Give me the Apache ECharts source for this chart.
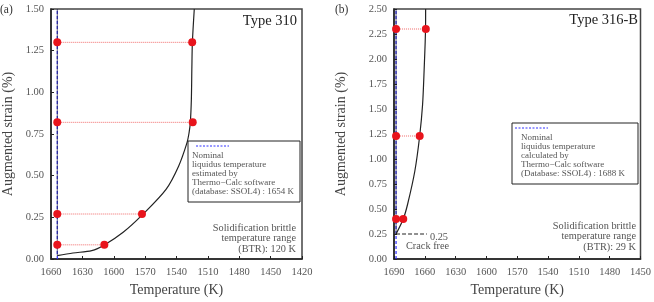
<!DOCTYPE html>
<html>
<head>
<meta charset="utf-8">
<script src="https://cdn.jsdelivr.net/npm/echarts@6/dist/echarts.min.js"></script>
<style>
  html, body { margin: 0; padding: 0; background: #fff; }
  #main { width: 654px; height: 302px; }
</style>
</head>
<body>
<div id="main"></div>
<script>
// panel (a) Type 310
const liquidusA = 1654;
const strainA = [1.30, 0.82, 0.27, 0.085];
const hotTempA = [1525, 1524.5, 1573, 1609];
const curveTempA = [1654, 1639, 1621, 1609, 1591, 1573, 1550, 1538, 1530, 1528, 1526.8, 1525.8, 1525.3, 1524.8, 1523];
const curveStrainA = [0.02, 0.036, 0.05, 0.084, 0.16, 0.263, 0.418, 0.557, 0.697, 0.757, 0.817, 0.956, 1.15, 1.30, 1.5];

// panel (b) Type 316-B
const liquidusB = 1688;
const strainB = [2.30, 1.23, 0.40];
const hotTempB = [1659, 1665, 1681];
const curveTempB = [1688, 1681, 1676.7, 1669.7, 1665, 1662.2, 1660.7, 1659.3, 1659.2];
const curveStrainB = [0.25, 0.40, 0.55, 0.88, 1.23, 1.54, 1.88, 2.30, 2.50];
const crackFree = 0.25;
const crackFreeEnd = 1658;

const tempRangeA = [1420, 1660];
const tempRangeB = [1450, 1690];
const strainMaxA = 1.5;
const strainMaxB = 2.5;

const serif = 'Liberation Serif';
const chart = echarts.init(document.getElementById('main'), null, { renderer: 'canvas' });

function pairs(xs, ys) {
  return xs.map((x, i) => [x, ys[i]]);
}

function xAxisOf(idx, range) {
  return {
    gridIndex: idx, type: 'value', inverse: true,
    min: range[0], max: range[1], interval: 30,
    name: 'Temperature (K)', nameLocation: 'middle', nameGap: 24,
    nameTextStyle: { fontFamily: serif, fontSize: 14, color: '#444' },
    axisLine: { lineStyle: { color: '#222', width: 1.5 } },
    axisTick: { inside: true, length: 3, lineStyle: { color: '#222' } },
    axisLabel: { fontFamily: serif, fontSize: 10.5, color: '#555', margin: 8,
      formatter: v => String(v) },
    splitLine: { show: false }
  };
}

function yAxisOf(idx, max, gap) {
  return {
    gridIndex: idx, type: 'value', min: 0, max: max, interval: 0.25,
    name: 'Augmented strain (%)', nameLocation: 'middle', nameGap: gap,
    nameTextStyle: { fontFamily: serif, fontSize: 14, color: '#444' },
    axisLine: { lineStyle: { color: '#222', width: 1.5 } },
    axisTick: { inside: true, length: 3, lineStyle: { color: '#222' } },
    axisLabel: { fontFamily: serif, fontSize: 10.5, color: '#555', margin: 7,
      formatter: v => v.toFixed(2) },
    splitLine: { show: false }
  };
}

function panelSeries(idx, liq, yMax, strains, hots, cTemp, cStrain, bottom) {
  const s = [];
  s.push({
    type: 'line', xAxisIndex: idx, yAxisIndex: idx, symbol: 'none', z: 2,
    data: [[liq, 0], [liq, yMax]],
    lineStyle: { color: '#2a2aff', width: 1.2, type: [3, 2] }
  });
  s.push({
    type: 'line', xAxisIndex: idx, yAxisIndex: idx, symbol: 'none', z: 3,
    data: [[liq, bottom], [liq, yMax]],
    lineStyle: { color: '#1a1a40', width: 1, opacity: 0.7 }
  });
  s.push({
    type: 'line', xAxisIndex: idx, yAxisIndex: idx, symbol: 'none', z: 3,
    smooth: 0.3, data: pairs(cTemp, cStrain),
    lineStyle: { color: '#222', width: 1.2 }
  });
  strains.forEach((v, i) => {
    s.push({
      type: 'line', xAxisIndex: idx, yAxisIndex: idx, z: 5,
      symbol: 'circle', symbolSize: 8,
      itemStyle: { color: '#e8141c' },
      data: [[liq, v], [hots[i], v]],
      lineStyle: { color: '#f06a6a', width: 1, type: 'dotted' }
    });
  });
  return s;
}

const series = [].concat(
  panelSeries(0, liquidusA, strainMaxA, strainA, hotTempA, curveTempA, curveStrainA, 0.02),
  panelSeries(1, liquidusB, strainMaxB, strainB, hotTempB, curveTempB, curveStrainB, crackFree)
);
series.push({
  type: 'line', xAxisIndex: 1, yAxisIndex: 1, symbol: 'none', z: 4,
  data: [[liquidusB, crackFree], [crackFreeEnd, crackFree]],
  lineStyle: { color: '#222', width: 1.2, type: [4, 2] }
});

function txt(x, y, s, size, align, color) {
  return {
    type: 'text', x: x, y: y, z: 10,
    style: { text: s, fontFamily: serif, fontSize: size, fill: color || '#444',
      textAlign: align || 'left', textVerticalAlign: 'middle' }
  };
}

function legendBox(x, y, w, h, dx, tx, lines) {
  const g = [
    { type: 'rect', shape: { x: x, y: y, width: w, height: h }, z: 9,
      style: { fill: '#fff', stroke: '#222', lineWidth: 1 } },
    { type: 'line', shape: { x1: dx, y1: y + 5, x2: dx + 33, y2: y + 5 }, z: 10,
      style: { stroke: '#3030ff', lineWidth: 1, lineDash: [2, 1.5] } }
  ];
  lines.forEach((l, i) => g.push(txt(tx, y + 15 + i * 9, l, 9, 'left', '#555')));
  return g;
}

const graphic = [].concat(
  [txt(0, 10, '(a)', 11.5, 'left', '#333'),
   txt(335, 10, '(b)', 11.5, 'left', '#333'),
   txt(297, 21, 'Type 310', 14.5, 'right', '#222'),
   txt(638, 20, 'Type 316-B', 14.5, 'right', '#222'),
   txt(296, 228, 'Solidification brittle', 10.3, 'right', '#555'),
   txt(296, 238.5, 'temperature range', 10.3, 'right', '#555'),
   txt(296, 249, '(BTR): 120 K', 10.3, 'right', '#555'),
   txt(636, 226, 'Solidification brittle', 10.3, 'right', '#555'),
   txt(636, 236.5, 'temperature range', 10.3, 'right', '#555'),
   txt(636, 247, '(BTR): 29 K', 10.3, 'right', '#555'),
   txt(430, 237, '0.25', 10.3, 'left', '#555'),
   txt(406, 246.5, 'Crack free', 10.3, 'left', '#555')],
  legendBox(188, 141, 112, 61, 196, 192,
    ['Nominal', 'liquidus temperature', 'estimated by', 'Thermo\u2212Calc software', '(database: SSOL4) : 1654 K']),
  legendBox(512, 123, 126, 61, 515, 521,
    ['Nominal', 'liquidus temperature', 'calculated by', 'Thermo\u2212Calc software', '(Database: SSOL4) : 1688 K'])
);

chart.setOption({
  animation: false,
  backgroundColor: '#fff',
  textStyle: { fontFamily: serif },
  grid: [
    { left: 49, top: 9, width: 253, height: 251, show: true, borderColor: '#444', borderWidth: 1.5 },
    { left: 394, top: 9, width: 248, height: 251, show: true, borderColor: '#444', borderWidth: 1.5 }
  ],
  xAxis: [xAxisOf(0, tempRangeA), xAxisOf(1, tempRangeB)],
  yAxis: [yAxisOf(0, strainMaxA, 36), yAxisOf(1, strainMaxB, 46)],
  series: series,
  graphic: graphic
});
</script>
</body>
</html>
